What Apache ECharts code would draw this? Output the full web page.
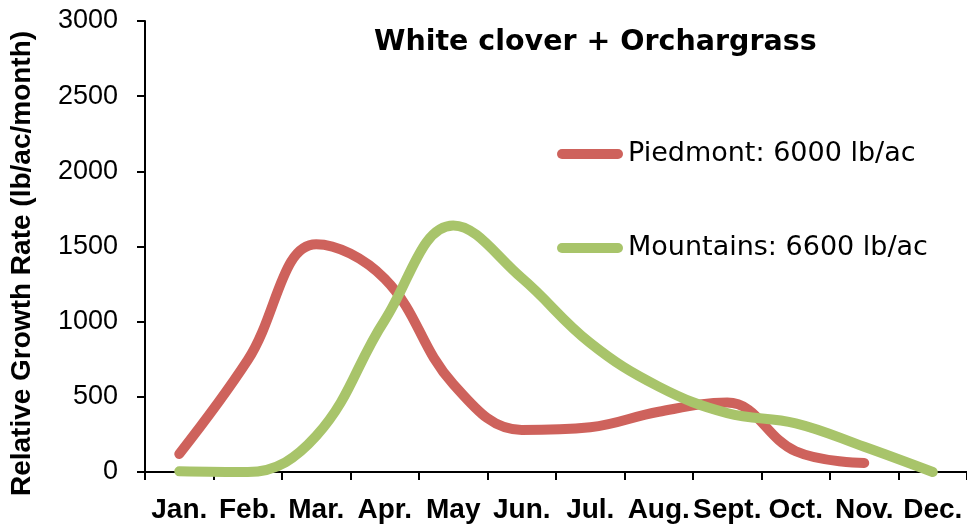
<!DOCTYPE html>
<html>
<head>
<meta charset="utf-8">
<script src="https://cdn.jsdelivr.net/npm/echarts@6/dist/echarts.min.js"></script>
<style>html,body{margin:0;padding:0;background:#fff}#c{width:967px;height:525px}</style>
</head>
<body>
<div id="c"></div>
<script>
var months = ['Jan.', 'Feb.', 'Mar.', 'Apr.', 'May', 'Jun.', 'Jul.', 'Aug.', 'Sept.', 'Oct.', 'Nov.', 'Dec.'];
var piedmont = [120, 745, 1515, 1285, 585, 280, 298, 401, 462, 138, 60, null];
var mountains = [5, 0, 240, 1010, 1640, 1290, 858, 568, 392, 324, 168, 0];
var yTicks = [0, 500, 1000, 1500, 2000, 2500, 3000];
var seriesNames = ['Piedmont: 6000 lb/ac', 'Mountains: 6600 lb/ac'];
var titleText = 'White clover + Orchargrass';
var yName = 'Relative Growth Rate (lb/ac/month)';

var RED = '#ce625c';
var GREEN = '#a8c46a';
var capsule = 'path://M5,0 L61,0 A5,5 0 0 1 61,10 L5,10 A5,5 0 0 1 5,0 Z';

var chart = echarts.init(document.getElementById('c'));
chart.setOption({
  animation: false,
  backgroundColor: '#fff',
  title: {
    text: titleText,
    left: 369,
    top: 23,
    textStyle: {fontFamily: 'DejaVu Sans', fontWeight: 'bold', fontSize: 28.5, color: '#000'}
  },
  legend: {
    orient: 'vertical',
    left: 552,
    top: 134,
    itemWidth: 66,
    itemHeight: 10,
    itemGap: 64,
    data: [{name: seriesNames[0], icon: capsule}, {name: seriesNames[1], icon: capsule}],
    textStyle: {fontFamily: 'DejaVu Sans', fontSize: 27, color: '#000', lineHeight: 30}
  },
  grid: {left: 144, top: 21, width: 828, height: 451},
  xAxis: {
    type: 'category',
    data: months,
    boundaryGap: true,
    axisLine: {lineStyle: {color: '#000', width: 2}},
    axisTick: {show: true, length: 8, lineStyle: {color: '#000', width: 2}},
    axisLabel: {interval: 0, margin: 24, fontFamily: 'Liberation Sans', fontWeight: 'bold', fontSize: 28, color: '#000'},
    splitLine: {show: false}
  },
  yAxis: {
    type: 'value',
    min: yTicks[0],
    max: yTicks[yTicks.length - 1],
    interval: 500,
    name: yName,
    nameLocation: 'middle',
    nameGap: 109,
    nameTextStyle: {fontFamily: 'Liberation Sans', fontWeight: 'bold', fontSize: 28, color: '#000', padding: [0, 34, 0, 0]},
    axisLine: {show: true, lineStyle: {color: '#000', width: 2}},
    axisTick: {show: true, length: 8, lineStyle: {color: '#000', width: 2}},
    axisLabel: {margin: 27, fontFamily: 'Liberation Sans', fontSize: 27, color: '#000', formatter: function (v) { return String(v); }},
    splitLine: {show: false}
  },
  series: [
    {
      name: seriesNames[0],
      type: 'line',
      data: piedmont,
      smooth: 0.4,
      symbol: 'none',
      color: RED,
      lineStyle: {color: RED, width: 10, cap: 'round', join: 'round'}
    },
    {
      name: seriesNames[1],
      type: 'line',
      data: mountains,
      smooth: 0.4,
      symbol: 'none',
      color: GREEN,
      lineStyle: {color: GREEN, width: 10, cap: 'round', join: 'round'}
    }
  ]
});
</script>
</body>
</html>
